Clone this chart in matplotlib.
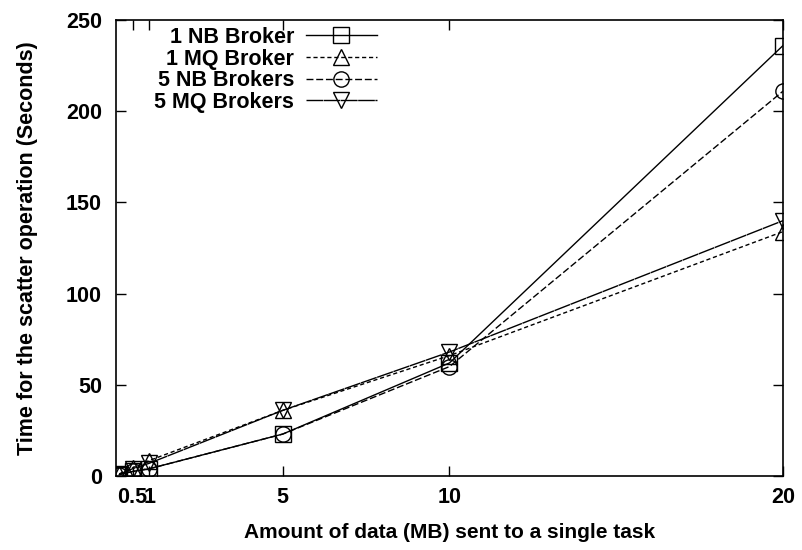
import matplotlib
matplotlib.use("Agg")
import matplotlib.pyplot as plt

plt.rcParams['font.family'] = ['Liberation Sans', 'DejaVu Sans']
plt.rcParams['font.weight'] = 'bold'
plt.rcParams['axes.labelweight'] = 'bold'

sizes = [0.1, 0.5, 1, 5, 10, 20]
nb1 = [0.8, 2.5, 4, 23, 62, 236]
mq1 = [1.2, 4.5, 8.5, 36, 66, 134]
nb5 = [0.8, 2.5, 4, 23, 60, 211]
mq5 = [1.0, 4.0, 7, 36, 68, 140]

xticks = [0.5, 1, 5, 10, 20]
yticks = [0, 50, 100, 150, 200, 250]

fig = plt.figure(figsize=(8.02, 5.5), dpi=100)
ax = fig.add_axes([0.1446, 0.1345, 0.8317, 0.8291])

mk = dict(color='black', lw=1.0, mfc='none', mec='black', mew=1.0)
ax.plot(sizes, nb1, marker='s', ms=11, ls='-', label='1 NB Broker', **mk)
ax.plot(sizes, mq1, marker='^', ms=11, ls=(0, (3, 2)), label='1 MQ Broker', **mk)
ax.plot(sizes, nb5, marker='o', ms=11, ls=(0, (5, 2)), label='5 NB Brokers', **mk)
ax.plot(sizes, mq5, marker='v', ms=11, ls=(0, (12, 0.4)), label='5 MQ Brokers', **mk)

ax.set_xlim(0, 20)
ax.set_ylim(0, 250)
ax.set_xticks(xticks)
ax.set_xticklabels(['0.5', '1', '5', '10', '20'])
ax.set_yticks(yticks)
ax.tick_params(direction='in', length=7, width=1, top=True, right=True,
               labelsize=15.5)
ax.tick_params(axis='y', pad=10)
ax.tick_params(axis='x', pad=8)
for s in ax.spines.values():
    s.set_linewidth(1.2)

ax.set_xlabel('Amount of data (MB) sent to a single task', fontsize=15, labelpad=11)
ax.set_ylabel('Time for the scatter operation (Seconds)', fontsize=15.5, labelpad=20)

ax.legend(loc='upper right', bbox_to_anchor=(0.391, 0.985), frameon=False,
          markerfirst=False, alignment='right', fontsize=15.5, handlelength=3.3,
          labelspacing=0.03, handletextpad=0.55, borderpad=0, borderaxespad=0)

fig.savefig('out.png', dpi=100)
